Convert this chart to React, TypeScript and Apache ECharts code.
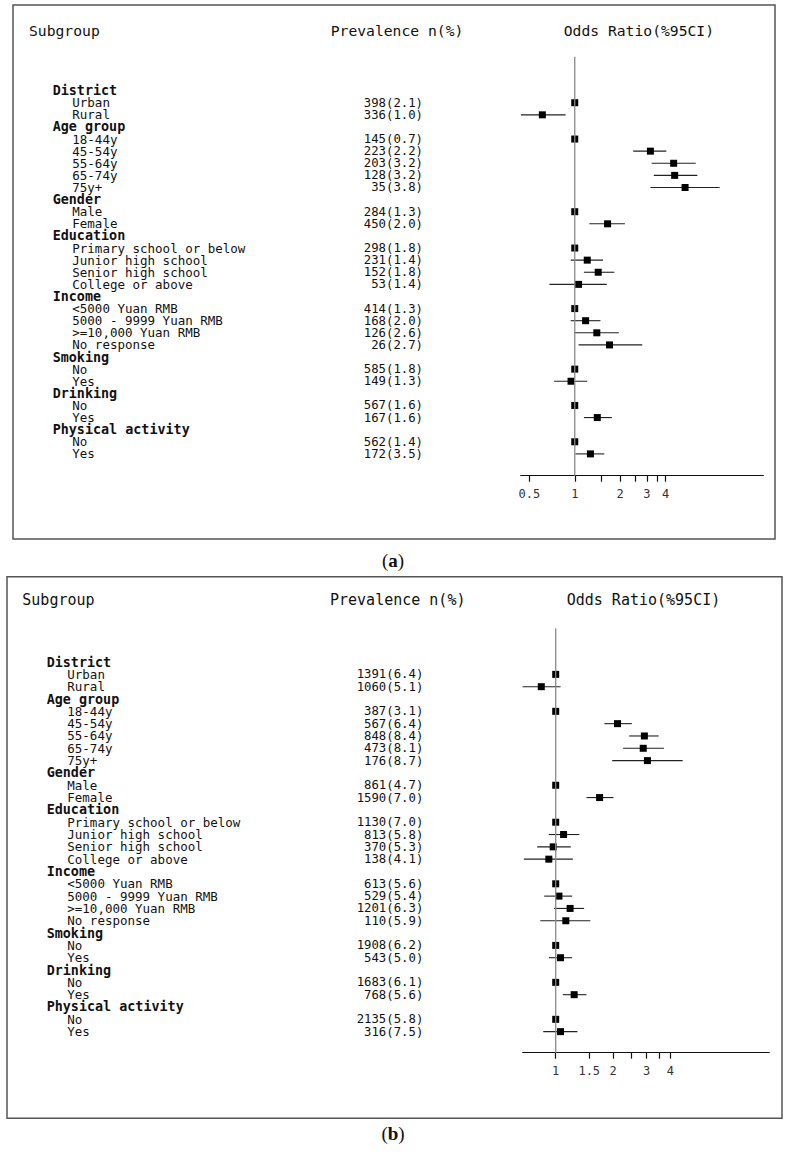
import React, { useEffect, useRef } from "react";
import * as echarts from "echarts";

// ---------- data ----------
const groupNames = ["District", "Age group", "Gender", "Education", "Income", "Smoking", "Drinking", "Physical activity"];
const subgroupNames = [
  "Urban", "Rural",
  "18-44y", "45-54y", "55-64y", "65-74y", "75y+",
  "Male", "Female",
  "Primary school or below", "Junior high school", "Senior high school", "College or above",
  "<5000 Yuan RMB", "5000 - 9999 Yuan RMB", ">=10,000 Yuan RMB", "No response",
  "No", "Yes",
  "No", "Yes",
  "No", "Yes",
];
const subgroupGroup = [0, 0, 1, 1, 1, 1, 1, 2, 2, 3, 3, 3, 3, 4, 4, 4, 4, 5, 5, 6, 6, 7, 7];

// panel (a)
const countsA = [398, 336, 145, 223, 203, 128, 35, 284, 450, 298, 231, 152, 53, 414, 168, 126, 26, 585, 149, 567, 167, 562, 172];
const pctA = [2.1, 1.0, 0.7, 2.2, 3.2, 3.2, 3.8, 1.3, 2.0, 1.8, 1.4, 1.8, 1.4, 1.3, 2.0, 2.6, 2.7, 1.8, 1.3, 1.6, 1.6, 1.4, 3.5];
const orA = [1, 0.61, 1, 3.17, 4.52, 4.59, 5.38, 1, 1.65, 1, 1.21, 1.43, 1.06, 1, 1.18, 1.4, 1.7, 1, 0.945, 1, 1.41, 1, 1.27];
const lowA = [null, 0.44, null, 2.44, 3.23, 3.34, 3.17, null, 1.25, null, 0.94, 1.15, 0.68, null, 0.94, 0.99, 1.06, null, 0.73, null, 1.15, null, 1.01];
const highA = [null, 0.87, null, 4.04, 6.33, 6.49, 9.12, null, 2.15, null, 1.54, 1.83, 1.63, null, 1.48, 1.96, 2.8, null, 1.21, null, 1.76, null, 1.57];
const ticksA = [0.5, 1, 1.5, 2, 2.5, 3, 3.5, 4];
const tickLabelsA = [0.5, 1, 2, 3, 4];

// panel (b)
const countsB = [1391, 1060, 387, 567, 848, 473, 176, 861, 1590, 1130, 813, 370, 138, 613, 529, 1201, 110, 1908, 543, 1683, 768, 2135, 316];
const pctB = [6.4, 5.1, 3.1, 6.4, 8.4, 8.1, 8.7, 4.7, 7.0, 7.0, 5.8, 5.3, 4.1, 5.6, 5.4, 6.3, 5.9, 6.2, 5.0, 6.1, 5.6, 5.8, 7.5];
const orB = [1, 0.84, 1, 2.11, 2.92, 2.88, 3.03, 1, 1.7, 1, 1.1, 0.97, 0.92, 1, 1.04, 1.19, 1.13, 1, 1.06, 1, 1.25, 1, 1.06];
const lowB = [null, 0.67, null, 1.8, 2.43, 2.26, 1.98, null, 1.45, null, 0.92, 0.8, 0.68, null, 0.87, 0.98, 0.83, null, 0.92, null, 1.09, null, 0.86];
const highB = [null, 1.06, null, 2.51, 3.47, 3.7, 4.64, null, 2.01, null, 1.33, 1.2, 1.23, null, 1.22, 1.41, 1.52, null, 1.22, null, 1.45, null, 1.3];
const ticksB = [1, 1.5, 2, 2.5, 3, 3.5, 4];
const tickLabelsB = [1, 1.5, 2, 3, 4];

// ---------- layout ----------
const MONO = "DejaVu Sans Mono";
const panels = [
  {
    id: "a", counts: countsA, pct: pctA, or: orA, low: lowA, high: highA, ticks: ticksA, tickLabels: tickLabelsA,
    box: [13, 5, 762, 534], gridTop: 56.7, gridBottom: 475.7, yMin: -2.8, yMax: 31.8,
    axisLeft: 520.7, axisRight: 763.3, xMin: 0.4385, xMax: 17.74,
    headerY: 30, subgroupX: 29, prevX: 330.7, orX: 563.7, headerFont: 14.7,
    groupX: 52.7, itemX: 72.3, prevRight: 423, labelY: 560,
  },
  {
    id: "b", counts: countsB, pct: pctB, or: orB, low: lowB, high: highB, ticks: ticksB, tickLabels: tickLabelsB,
    box: [7, 576.7, 775, 541.6], gridTop: 628.3, gridBottom: 1052.7, yMin: -2.74, yMax: 31.71,
    axisLeft: 522.7, axisRight: 769.3, xMin: 0.671, xMax: 13.22,
    headerY: 600, subgroupX: 22.3, prevX: 330, orX: 566.7, headerFont: 15,
    groupX: 46.7, itemX: 67.3, prevRight: 423.3, labelY: 1133,
  },
];

type Row = { row: number; header: boolean; text: string; idx: number };

function buildRows(): Row[] {
  const rows: Row[] = [];
  let r = 0;
  groupNames.forEach((g, gi) => {
    rows.push({ row: r++, header: true, text: g, idx: -1 });
    subgroupNames.forEach((s, si) => {
      if (subgroupGroup[si] === gi) rows.push({ row: r++, header: false, text: s, idx: si });
    });
  });
  return rows;
}

export default function App() {
  const ref = useRef<HTMLDivElement>(null);
  useEffect(() => {
    document.body.style.margin = "0";
    const chart = echarts.init(ref.current!, null, { renderer: "svg" });
    const rows = buildRows();
    const itemRows = rows.filter((r) => !r.header);

    const grids: any[] = [];
    const xAxes: any[] = [];
    const yAxes: any[] = [];
    const series: any[] = [];
    const graphics: any[] = [];

    panels.forEach((p, pi) => {
      grids.push({
        left: p.axisLeft, width: p.axisRight - p.axisLeft,
        top: p.gridTop, height: p.gridBottom - p.gridTop,
        containLabel: false,
      });
      xAxes.push({
        type: "log", logBase: 10, gridIndex: pi, min: p.xMin, max: p.xMax,
        splitLine: { show: false },
        axisLine: { show: true, onZero: false, lineStyle: { color: "#111", width: 1.2 } },
        axisTick: { show: true, length: 6, customValues: p.ticks, lineStyle: { color: "#111", width: 1.2 } },
        axisLabel: {
          show: true, customValues: p.tickLabels, margin: 12,
          fontFamily: MONO, fontSize: 12, color: "#333",
          formatter: (v: number) => String(v),
        },
        minorTick: { show: false },
      });
      yAxes.push({
        type: "value", gridIndex: pi, inverse: true, min: p.yMin, max: p.yMax, show: false,
      });

      // CI + squares
      series.push({
        type: "custom", xAxisIndex: pi, yAxisIndex: pi, z: 2,
        encode: { x: [0, 2, 3], y: 1 },
        data: itemRows.map((r) => {
          const o = p.or[r.idx];
          return [o, r.row, p.low[r.idx] ?? o, p.high[r.idx] ?? o];
        }),
        renderItem: (params: any, api: any) => {
          const c = api.coord([api.value(0), api.value(1)]);
          const l = api.coord([api.value(2), api.value(1)]);
          const h = api.coord([api.value(3), api.value(1)]);
          const s = 7;
          return {
            type: "group",
            children: [
              { type: "line", shape: { x1: l[0], y1: c[1], x2: h[0], y2: c[1] }, style: { stroke: "#222", lineWidth: 1.1 } },
              { type: "rect", shape: { x: c[0] - s / 2, y: c[1] - s / 2, width: s, height: s }, style: { fill: "#000" } },
            ],
          };
        },
      });

      // reference line at OR = 1
      series.push({
        type: "custom", xAxisIndex: pi, yAxisIndex: pi, z: 5,
        data: [[1, 0]],
        renderItem: (params: any, api: any) => {
          const cs = params.coordSys;
          const x = api.coord([api.value(0), 0])[0];
          return {
            type: "line",
            shape: { x1: x, y1: cs.y, x2: x, y2: cs.y + cs.height },
            style: { stroke: "#8a8a8a", lineWidth: 1.3 },
          };
        },
      });

      // row texts
      series.push({
        type: "custom", xAxisIndex: pi, yAxisIndex: pi, z: 3, clip: false,
        data: rows.map((r) => [1, r.row]),
        renderItem: (params: any, api: any) => {
          const r = rows[params.dataIndex];
          const y = api.coord([1, api.value(1)])[1];
          if (r.header) {
            return {
              type: "text",
              style: {
                x: p.groupX, y, text: r.text, fontFamily: MONO, fontSize: 13.4, fontWeight: "bold",
                lineHeight: 11, fill: "#111", align: "left", verticalAlign: "middle",
              },
            };
          }
          return {
            type: "group",
            children: [
              {
                type: "text",
                style: {
                  x: p.itemX, y, text: r.text, fontFamily: MONO, fontSize: 12.5, lineHeight: 11,
                  fill: "#111", align: "left", verticalAlign: "middle",
                },
              },
              {
                type: "text",
                style: {
                  x: p.prevRight, y, text: `${p.counts[r.idx]}(${p.pct[r.idx].toFixed(1)})`,
                  fontFamily: MONO, fontSize: 12.3, lineHeight: 11, fill: "#111", align: "right", verticalAlign: "middle",
                },
              },
            ],
          };
        },
      });

      // frame and headers
      graphics.push({
        type: "rect", shape: { x: p.box[0], y: p.box[1], width: p.box[2], height: p.box[3] },
        style: { fill: "none", stroke: "#555", lineWidth: 1.5 }, silent: true,
      });
      const hdr = (x: number, text: string) => ({
        type: "text", x, y: p.headerY,
        style: { text, fontFamily: MONO, fontSize: p.headerFont, fill: "#111", align: "left", verticalAlign: "middle" },
      });
      graphics.push(hdr(p.subgroupX, "Subgroup"));
      graphics.push(hdr(p.prevX, "Prevalence n(%)"));
      graphics.push(hdr(p.orX, "Odds Ratio(%95CI)"));
      graphics.push({
        type: "text", x: 393, y: p.labelY,
        style: {
          text: `{n|(}{b|${p.id}}{n|)}`, align: "center", verticalAlign: "middle",
          rich: {
            n: { fontFamily: "Liberation Serif", fontSize: 19, fill: "#111" },
            b: { fontFamily: "Liberation Serif", fontSize: 19, fontWeight: "bold", fill: "#111" },
          },
        },
      });
    });

    chart.setOption({
      animation: false,
      backgroundColor: "#fff",
      grid: grids,
      xAxis: xAxes,
      yAxis: yAxes,
      series,
      graphic: graphics,
    });
    return () => chart.dispose();
  }, []);
  return <div ref={ref} style={{ width: 788, height: 1156 }} />;
}
